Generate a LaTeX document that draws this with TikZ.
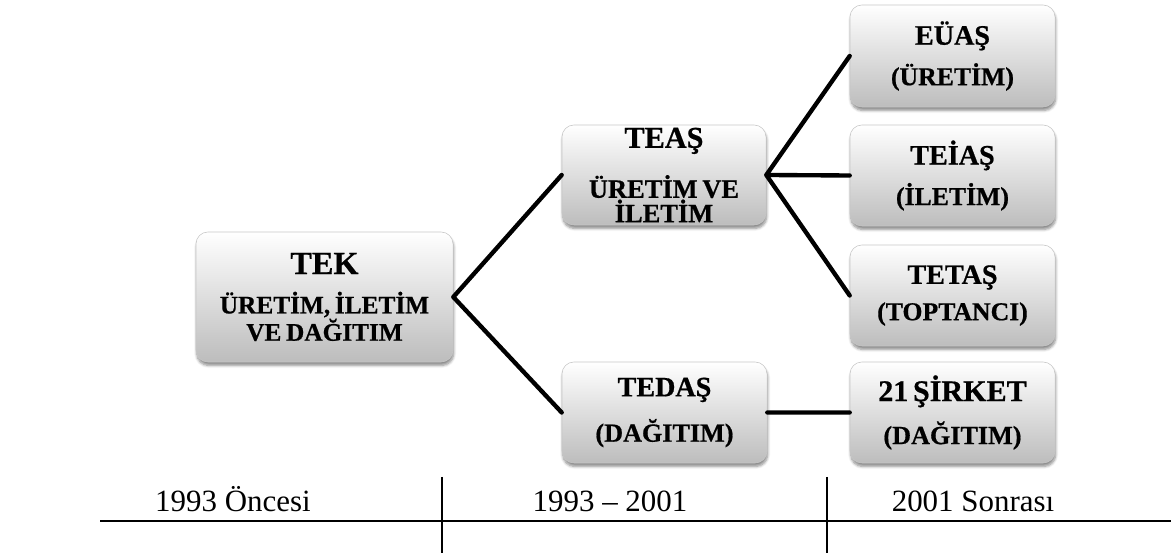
\documentclass[tikz,border=0pt]{standalone}
\usepackage{fontspec}
\setmainfont{Liberation Serif}[BoldFeatures={FakeBold=0.6}]
\usetikzlibrary{positioning,shadows.blur}

\tikzset{
  kutu/.style={rectangle, rounded corners=0.3cm, draw=black!22, line width=0.4pt,
    top color=white, bottom color=black!26,
    blur shadow={shadow xshift=0.5pt, shadow yshift=-2.5pt, shadow blur steps=6, shadow opacity=45},
    inner xsep=0pt, inner ysep=0pt, align=center, font=\bfseries},
  bag/.style={line width=3.1pt, line cap=round},
  donem/.style={anchor=base, font=\fontsize{22}{24}\selectfont}
}
\newcommand{\buyuk}[1]{\fontsize{#1}{#1}\selectfont}

\begin{document}
\begin{tikzpicture}[x=0.025cm, y=0.025cm]
    \useasboundingbox (0,0) rectangle (1171,558);
    \node[kutu, text width=6.425cm, minimum height=3.25cm] (tek) at (324.5,261)
      {{\buyuk{23}TEK}\\[7pt]\fontsize{18}{21}\selectfont ÜRETİM, İLETİM\\VE DAĞITIM};
    \node[kutu, text width=5.1cm, minimum height=2.5cm] (teas) at (664,383)
      {{\buyuk{21.5}TEAŞ}\\[14pt]\fontsize{18.8}{16}\selectfont ÜRETİM VE\\İLETİM};
    \node[kutu, text width=5.125cm, minimum height=2.525cm] (tedas) at (664.5,145.5)
      {{\buyuk{20}TEDAŞ}\\[11pt]\fontsize{18.6}{21}\selectfont (DAĞITIM)};
    \node[kutu, text width=5.125cm, minimum height=2.55cm] (euas) at (952.5,502)
      {{\buyuk{20}EÜAŞ}\\[8pt]\fontsize{18.3}{21}\selectfont (ÜRETİM)};
    \node[kutu, text width=5.125cm, minimum height=2.525cm] (teias) at (952.5,382.5)
      {{\buyuk{20}TEİAŞ}\\[8pt]\fontsize{18.3}{21}\selectfont (İLETİM)};
    \node[kutu, text width=5.125cm, minimum height=2.525cm] (tetas) at (952.5,262.5)
      {{\buyuk{20}TETAŞ}\\[8pt]\fontsize{18.3}{21}\selectfont (TOPTANCI)};
    \node[kutu, text width=5.125cm, minimum height=2.525cm] (sirket) at (952.5,145.5)
      {{\buyuk{21.4}21 ŞİRKET}\\[9pt]\fontsize{18.6}{21}\selectfont (DAĞITIM)};
    \draw[bag]
      (tek.east) -- (teas.west)
      (tek.east) -- (tedas.west)
      (teas.east) -- (euas.west)
      (teas.east) -- (teias.west)
      (teas.east) -- (tetas.west)
      (tedas.east) -- (sirket.west);
    % zaman cizelgesi
    \coordinate (cizgibas) at (100,37);
    \coordinate (cizgison) at (1171,37);
    \coordinate (ayrac1ust) at (442,81);
    \coordinate (ayrac1alt) at (442,5);
    \coordinate (ayrac2ust) at (827,81);
    \coordinate (ayrac2alt) at (827,5);
    \draw[line width=1.9pt] (cizgibas) -- (cizgison);
    \draw[line width=1pt] (ayrac1ust) -- (ayrac1alt) (ayrac2ust) -- (ayrac2alt);
    \node[donem] (once) at (233,46) {1993 Öncesi};
    \node[donem] (arasi) at (610,46) {1993 – 2001};
    \node[donem] (sonra) at (973,46) {2001 Sonrası};
  \end{tikzpicture}
\end{document}
